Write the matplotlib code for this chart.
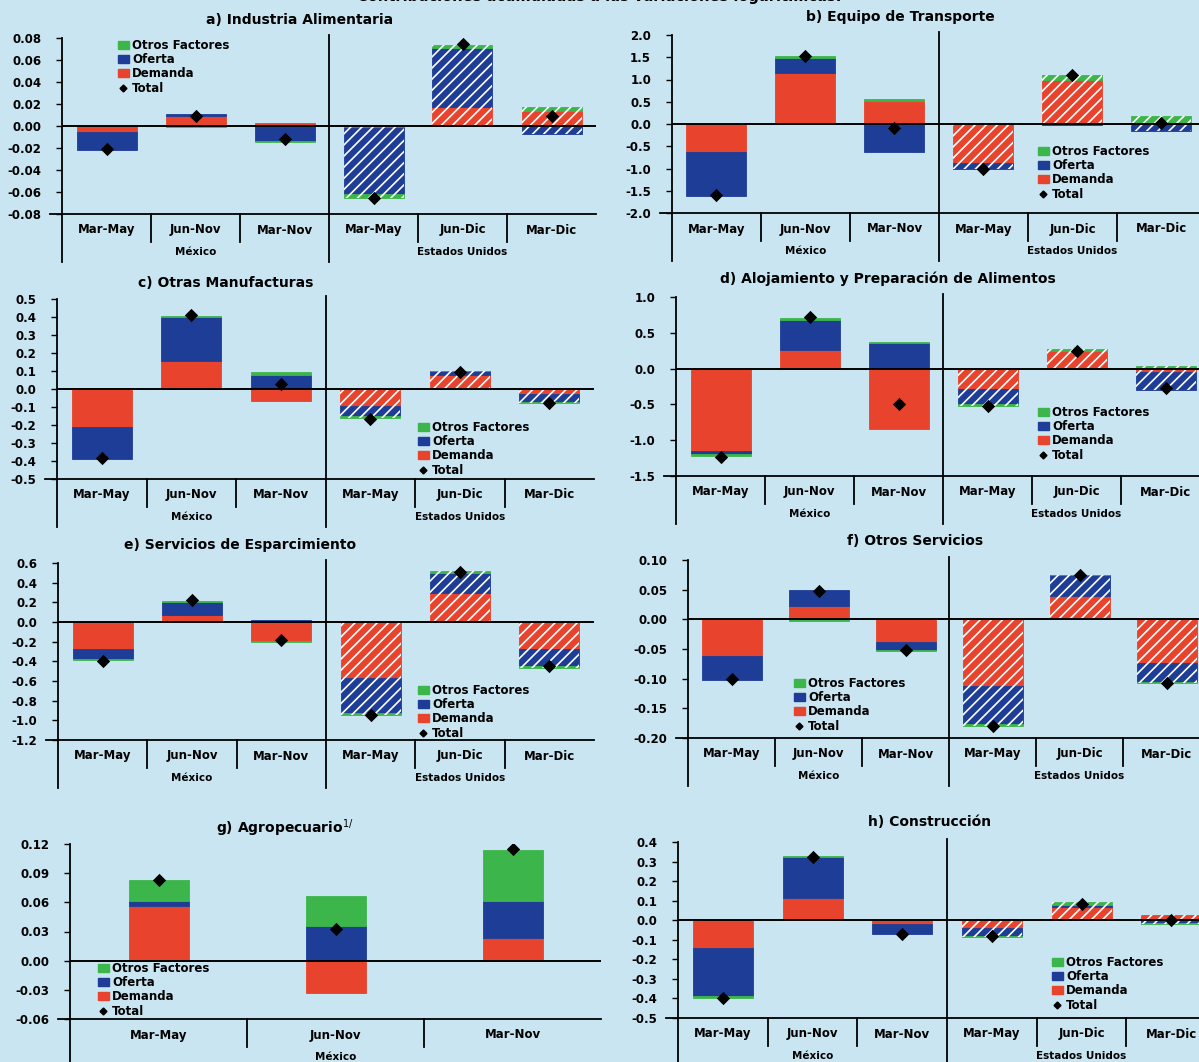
import matplotlib
matplotlib.use("Agg")
import matplotlib.pyplot as plt
from matplotlib.patches import Patch
from matplotlib.lines import Line2D
from matplotlib.ticker import MultipleLocator, FormatStrFormatter
from matplotlib.transforms import blended_transform_factory

plt.rcParams["font.family"] = ["DejaVu Sans"]
plt.rcParams["axes.unicode_minus"] = False
plt.rcParams["hatch.linewidth"] = 1.2

W, H = 1199, 1062
BG = "#c8e5f1"
RED = "#e8432d"
BLUE = "#1d3d96"
GREEN = "#3cb64b"

SUPTITLE = "Contribuciones acumuladas a las variaciones logarítmicas:"
PERIODS = ["Mar-May", "Jun-Nov", "Mar-Nov", "Mar-May", "Jun-Dic", "Mar-Dic"]
GROUPS = ["México", "Estados Unidos"]
LEGEND_LABELS = ["Otros Factores", "Oferta", "Demanda", "Total"]

# a) Industria Alimentaria
A_DEMANDA = [-0.005, 0.009, 0.003, -0.002, 0.017, 0.014]
A_OFERTA = [-0.017, 0.002, -0.014, -0.060, 0.054, -0.007]
A_OTROS = [0.001, -0.001, -0.001, -0.003, 0.003, 0.003]
A_TOTAL = [-0.021, 0.009, -0.012, -0.065, 0.075, 0.009]

# b) Equipo de Transporte
B_DEMANDA = [-0.62, 1.15, 0.52, -0.87, 1.00, 0.00]
B_OFERTA = [-1.00, 0.33, -0.62, -0.15, -0.02, -0.15]
B_OTROS = [0.02, 0.05, 0.05, 0.02, 0.10, 0.18]
B_TOTAL = [-1.60, 1.52, -0.08, -1.00, 1.10, 0.02]

# c) Otras Manufacturas
C_DEMANDA = [-0.21, 0.155, -0.065, -0.095, 0.08, -0.03]
C_OFERTA = [-0.18, 0.245, 0.08, -0.055, 0.02, -0.04]
C_OTROS = [0.005, 0.005, 0.012, -0.01, 0.002, -0.01]
C_TOTAL = [-0.385, 0.41, 0.025, -0.165, 0.095, -0.08]

# d) Alojamiento y Preparación de Alimentos
D_DEMANDA = [-1.15, 0.26, -0.85, -0.28, 0.24, -0.05]
D_OFERTA = [-0.04, 0.42, 0.36, -0.22, -0.01, -0.25]
D_OTROS = [-0.03, 0.03, 0.015, -0.02, 0.04, 0.03]
D_TOTAL = [-1.23, 0.72, -0.50, -0.52, 0.25, -0.27]

# e) Servicios de Esparcimiento
E_DEMANDA = [-0.27, 0.07, -0.19, -0.57, 0.30, -0.27]
E_OFERTA = [-0.11, 0.13, 0.02, -0.36, 0.20, -0.18]
E_OTROS = [-0.01, 0.015, -0.01, -0.02, 0.02, -0.02]
E_TOTAL = [-0.40, 0.22, -0.18, -0.95, 0.51, -0.45]

# f) Otros Servicios
F_DEMANDA = [-0.062, 0.022, -0.039, -0.113, 0.040, -0.073]
F_OFERTA = [-0.041, 0.028, -0.012, -0.064, 0.034, -0.032]
F_OTROS = [0.001, -0.002, -0.002, -0.003, 0.001, -0.002]
F_TOTAL = [-0.101, 0.048, -0.052, -0.179, 0.075, -0.107]

# g) Agropecuario (solo México)
G_DEMANDA = [0.056, -0.033, 0.023]
G_OFERTA = [0.005, 0.036, 0.038]
G_OTROS = [0.022, 0.031, 0.053]
G_TOTAL = [0.083, 0.033, 0.115]

# h) Construcción
H_DEMANDA = [-0.14, 0.115, -0.02, -0.04, 0.07, 0.025]
H_OFERTA = [-0.25, 0.21, -0.05, -0.04, 0.01, -0.015]
H_OTROS = [-0.01, 0.005, 0.0, -0.005, 0.015, -0.005]
H_TOTAL = [-0.40, 0.325, -0.07, -0.08, 0.085, 0.0]

# layout: plot box in pixels (left, top, right, bottom), y range, tick step, format
PANELS = [
    dict(title="a) Industria Alimentaria", title_xy=(300, 20),
         box=(62, 38, 596, 214), ylim=(-0.08, 0.08), step=0.02, fmt="%.2f",
         data=(A_DEMANDA, A_OFERTA, A_OTROS, A_TOTAL), legend_xy=(118, 39)),
    dict(title="b) Equipo de Transporte", title_xy=(900, 17),
         box=(672, 35, 1206, 213), ylim=(-2.0, 2.0), step=0.5, fmt="%.1f",
         data=(B_DEMANDA, B_OFERTA, B_OTROS, B_TOTAL), legend_xy=(1038, 145)),
    dict(title="c) Otras Manufacturas", title_xy=(226, 283),
         box=(57, 299, 594, 479), ylim=(-0.5, 0.5), step=0.1, fmt="%.1f",
         data=(C_DEMANDA, C_OFERTA, C_OTROS, C_TOTAL), legend_xy=(418, 421)),
    dict(title="d) Alojamiento y Preparación de Alimentos", title_xy=(888, 279),
         box=(676, 297, 1210, 476), ylim=(-1.5, 1.0), step=0.5, fmt="%.1f",
         data=(D_DEMANDA, D_OFERTA, D_OTROS, D_TOTAL), legend_xy=(1038, 406)),
    dict(title="e) Servicios de Esparcimiento", title_xy=(240, 545),
         box=(58, 563, 594, 740), ylim=(-1.2, 0.6), step=0.2, fmt="%.1f",
         data=(E_DEMANDA, E_OFERTA, E_OTROS, E_TOTAL), legend_xy=(418, 684)),
    dict(title="f) Otros Servicios", title_xy=(915, 541),
         box=(688, 560, 1210, 738), ylim=(-0.20, 0.10), step=0.05, fmt="%.2f",
         data=(F_DEMANDA, F_OFERTA, F_OTROS, F_TOTAL), legend_xy=(794, 677)),
    dict(title="g) Agropecuario$^{1/}$", title_xy=(285, 828),
         box=(70, 844, 601, 1019), ylim=(-0.06, 0.12), step=0.03, fmt="%.2f",
         data=(G_DEMANDA, G_OFERTA, G_OTROS, G_TOTAL), legend_xy=(98, 962)),
    dict(title="h) Construcción", title_xy=(930, 822),
         box=(678, 842, 1216, 1018), ylim=(-0.5, 0.4), step=0.1, fmt="%.1f",
         data=(H_DEMANDA, H_OFERTA, H_OTROS, H_TOTAL), legend_xy=(1052, 956)),
]

BAR_PX = 60


def draw_panel(fig, spec):
    left, top, right, bottom = spec["box"]
    h_px = bottom - top
    ax = fig.add_axes([left / W, 1 - bottom / H, (right - left) / W, h_px / H])
    ax.patch.set_alpha(0)
    demanda, oferta, otros, total = spec["data"]
    n = len(total)
    px_per_cat = (right - left) / n
    width = BAR_PX / px_per_cat

    for i in range(n):
        x = i + 0.5
        hatched = n == 6 and i >= 3
        pos, neg = 0.0, 0.0
        for vals, color in ((demanda, RED), (oferta, BLUE), (otros, GREEN)):
            v = vals[i]
            if v >= 0:
                base = pos
                pos += v
            else:
                base = neg
                neg += v
            ax.bar(x, v, bottom=base, width=width, color=color, edgecolor=color,
                   linewidth=0.6, zorder=2)
            if hatched:
                ax.bar(x, v, bottom=base, width=width, facecolor="none",
                       edgecolor="white", hatch="///", linewidth=0, zorder=3)
    ax.scatter([i + 0.5 for i in range(n)], total, marker="D", s=46,
               color="black", zorder=5, linewidths=0)

    ax.set_xlim(0, n)
    ax.set_ylim(*spec["ylim"])
    ax.axhline(0, color="black", lw=1.4, zorder=4)
    for side in ("top", "right", "bottom", "left"):
        ax.spines[side].set_visible(False)
    ax.set_xticks([])
    ax.yaxis.set_major_locator(MultipleLocator(spec["step"]))
    ax.yaxis.set_major_formatter(FormatStrFormatter(spec["fmt"]))
    ax.tick_params(axis="y", direction="out", length=4, width=1, pad=11,
                   labelsize=8.5, colors="black")
    for lab in ax.get_yticklabels():
        lab.set_fontweight("bold")

    tr = blended_transform_factory(ax.transData, ax.transAxes)
    f = 1.0 / h_px
    # left axis line, running below into the category area
    ax.plot([0, 0], [1, -48 * f], transform=tr, color="black", lw=1.3,
            clip_on=False, zorder=6)
    # bottom line
    ax.plot([-12 / px_per_cat, n], [0, 0], transform=tr, color="black", lw=1.3,
            clip_on=False, zorder=6)
    for k in range(1, n):
        if n == 6 and k == 3:
            ax.plot([k, k], [1 + 3 * f, -48 * f], transform=tr, color="black",
                    lw=1.3, clip_on=False, zorder=6)
        else:
            ax.plot([k, k], [0, -28 * f], transform=tr, color="black", lw=1.3,
                    clip_on=False, zorder=6)
    for i in range(n):
        ax.text(i + 0.5, -16 * f, PERIODS[i], transform=tr, ha="center",
                va="center", fontsize=8.5, fontweight="bold")
    groups = GROUPS if n == 6 else GROUPS[:1]
    for g, name in enumerate(groups):
        ax.text(g * 3 + 1.5, -38 * f, name, transform=tr, ha="center",
                va="center", fontsize=7.5, fontweight="bold")

    tx, ty = spec["title_xy"]
    fig.text(tx / W, 1 - ty / H, spec["title"], ha="center", va="center",
             fontsize=10, fontweight="bold")

    handles = [
        Patch(facecolor=GREEN, edgecolor=GREEN),
        Patch(facecolor=BLUE, edgecolor=BLUE),
        Patch(facecolor=RED, edgecolor=RED),
        Line2D([], [], marker="D", color="black", linestyle="none", markersize=3.5),
    ]
    lx, ly = spec["legend_xy"]
    leg = ax.legend(handles, LEGEND_LABELS, loc="upper left",
                    bbox_to_anchor=(lx / W, 1 - ly / H),
                    bbox_transform=fig.transFigure, frameon=False,
                    fontsize=8.5, handlelength=0.9, handleheight=0.6,
                    handletextpad=0.3, labelspacing=0.1, borderpad=0,
                    borderaxespad=0)
    for t in leg.get_texts():
        t.set_fontweight("bold")


fig = plt.figure(figsize=(W / 100, H / 100), dpi=100)
fig.patch.set_facecolor(BG)
fig.text(0.5, 1 + 4 / H, SUPTITLE, ha="center", va="center", fontsize=10.5,
         fontweight="bold")
for spec in PANELS:
    draw_panel(fig, spec)

fig.savefig("out.png", dpi=100, facecolor=BG)
